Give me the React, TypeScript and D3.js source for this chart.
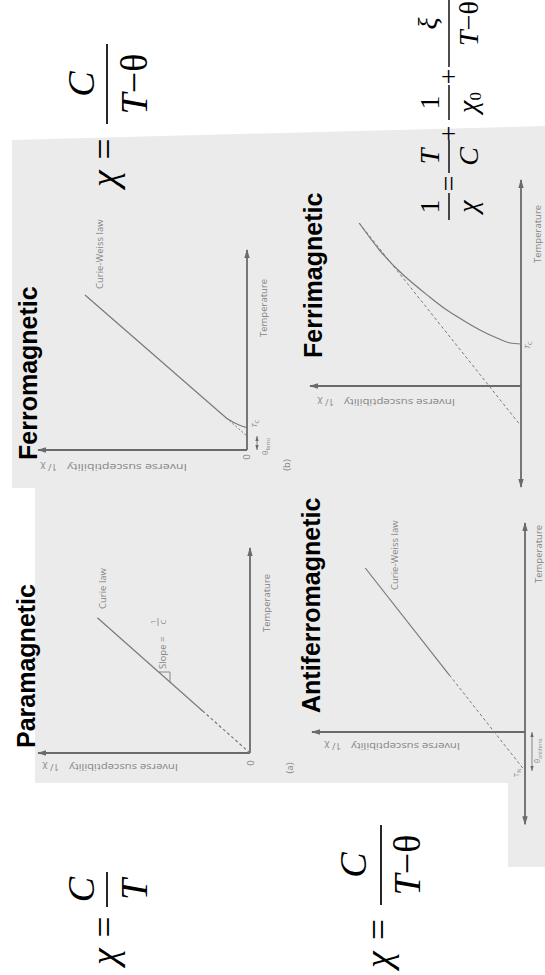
import React from "react";
import * as d3 from "d3";

// ---------- text content ----------
const titles = ["Paramagnetic", "Ferromagnetic", "Antiferromagnetic", "Ferrimagnetic"];
const panelTags = ["(a)", "(b)"];
const axisNames = ["Inverse susceptibility", "1/ \u03c7", "Temperature"];
const lawNames = ["Curie law", "Curie-Weiss law"];
const CHI = "\u03c7";
const THETA = "\u03b8";
const XI = "\u03be";
const MINUS = "\u2212";

// ---------- data (chart units: [temperature, inverse susceptibility]) ----------
const paraCurie: [number, number][] = [[2.0, 2.18], [6.6, 7.2]];
const paraExtrap: [number, number][] = [[0, 0], [2.0, 2.18]];
const ferroCW: [number, number][] = [[7.75, 7.75], [1.6, 0.99]];
const ferroNearTc: [number, number][] = [[1.6, 0.99], [1.35, 0.58], [1.2, 0.26], [1.12, 0]];
const ferroExtrap: [number, number][] = [[1.6, 0.99], [0.7, 0]];
const afCW: [number, number][] = [[8.0, 7.5], [2.78, 3.55]];
const afExtrap: [number, number][] = [[2.78, 3.55], [-1.9, 0]];
const ferriCurve: [number, number][] = [
  [8.15, 7.67], [6.8, 6.71], [4.45, 4.33], [3.8, 3.52], [3.3, 2.76],
  [2.8, 1.95], [2.4, 1.14], [2.15, 0.52], [2.1, 0],
];
const ferriAsym: [number, number][] = [[8.15, 7.67], [-2.0, 0]];
const ferroTheta = 0.7;
const ferroTc = 1.12;
const afTheta = -1.9;
const ferriTc = 2.05;

// ---------- scales (landscape slide coords: U to the right, V downward) ----------
const para = { t: d3.scaleLinear().domain([0, 10]).range([222, 427]), c: d3.scaleLinear().domain([0, 10]).range([250, 38]) };
const ferro = { t: d3.scaleLinear().domain([0, 10]).range([525, 725]), c: d3.scaleLinear().domain([0, 10]).range([247, 38]) };
const af = { t: d3.scaleLinear().domain([0, 10]).range([243, 448]), c: d3.scaleLinear().domain([0, 10]).range([525, 312]) };
const ferri = { t: d3.scaleLinear().domain([0, 10]).range([589, 789]), c: d3.scaleLinear().domain([0, 10]).range([521, 310]) };

type Frame = typeof para;
const mkLine = (f: Frame) => d3.line<[number, number]>().x((d) => f.t(d[0])).y((d) => f.c(d[1]));

const AX = "#6a6a6a";
const LN = "#7a7a7a";
const TX = "#858585";
const SANS = "'Open Sans', 'DejaVu Sans', sans-serif";
const SERIF = "'Liberation Serif', 'Times New Roman', serif";
const BOLD = "'Liberation Sans', Arial, sans-serif";

function Axes({ f, tFrom, tTo, both }: { f: Frame; tFrom: number; tTo: number; both?: boolean }) {
  return (
    <g stroke={AX} strokeWidth={1.8} fill="none">
      <line x1={f.t(tFrom)} y1={f.c(0)} x2={f.t(tTo)} y2={f.c(0)} markerEnd="url(#arr)" markerStart={both ? "url(#arr)" : undefined} />
      <line x1={f.t(0)} y1={f.c(0)} x2={f.t(0)} y2={f.c(10)} markerEnd="url(#arr)" />
    </g>
  );
}

function YLabel({ u, vStart, vEnd }: { u: number; vStart: number; vEnd: number }) {
  return (
    <g fill={TX} fontFamily={SANS} fontSize={9.5}>
      <text transform={`translate(${u},${vStart}) rotate(-90)`} textLength={vStart - vEnd - 24} lengthAdjust="spacingAndGlyphs">
        {axisNames[0]}
      </text>
      <text transform={`translate(${u},${vEnd + 14}) rotate(-90)`}>{axisNames[1]}</text>
    </g>
  );
}

function Frac({ u1, u2, v, num, den, size, numDy, denDy }: any) {
  const mid = (u1 + u2) / 2;
  return (
    <g>
      <line x1={u1} x2={u2} y1={v} y2={v} stroke="#000" strokeWidth={size > 30 ? 1.7 : 1.4} />
      <text x={mid} y={v + numDy} textAnchor="middle" fontSize={size}>{num}</text>
      <text x={mid} y={v + denDy} textAnchor="middle" fontSize={size}>{den}</text>
    </g>
  );
}

const It = ({ c }: { c: string }) => <tspan fontStyle="italic">{c}</tspan>;

export default function App() {
  const lp = mkLine(para), lf = mkLine(ferro), la = mkLine(af), lr = mkLine(ferri);
  const ferriPath = d3.line<[number, number]>().x((d) => ferri.t(d[0])).y((d) => ferri.c(d[1])).curve(d3.curveMonotoneY)(ferriCurve);
  const ferroTcPath = d3.line<[number, number]>().x((d) => ferro.t(d[0])).y((d) => ferro.c(d[1])).curve(d3.curveMonotoneY)(ferroNearTc);

  return (
    <svg width={545} height={975} style={{ position: "absolute", left: 0, top: 0 }} xmlns="http://www.w3.org/2000/svg">
      <defs>
        <marker id="arr" viewBox="0 0 10 6" refX={9} refY={3} markerWidth={9} markerHeight={6} markerUnits="userSpaceOnUse" orient="auto-start-reverse">
          <path d="M0,0 L10,3 L0,6 z" fill={AX} />
        </marker>
        <marker id="sarr" viewBox="0 0 6 4" refX={6} refY={2} markerWidth={5} markerHeight={4} markerUnits="userSpaceOnUse" orient="auto-start-reverse">
          <path d="M0,0 L6,2 L0,4 z" fill={AX} />
        </marker>
      </defs>
      <rect width={545} height={975} fill="#fff" />
      <g transform="translate(0,975) rotate(-90)">
        {/* scanned panel */}
        <polygon points="835,12 849,545 108,545 108,508 192,508 192,35 487,35 487,12" fill="#ebebeb" />

        {/* titles */}
        <g fontFamily={BOLD} fontWeight="bold" fontSize={25} fill="#000">
          <text x={227} y={35}>{titles[0]}</text>
          <text x={515} y={37}>{titles[1]}</text>
          <text x={262} y={320}>{titles[2]}</text>
          <text x={617} y={322}>{titles[3]}</text>
        </g>

        {/* Paramagnetic */}
        <Axes f={para} tFrom={0} tTo={10} />
        <path d={lp(paraCurie)!} stroke={LN} strokeWidth={1.2} fill="none" />
        <path d={lp(paraExtrap)!} stroke={LN} strokeWidth={1.2} fill="none" strokeDasharray="3,2.5" />
        <path d="M293,170 H303 V159" stroke={LN} strokeWidth={0.9} fill="none" />
        <g fill={TX} fontFamily={SANS} fontSize={9.5}>
          <text x={366} y={106}>{lawNames[0]}</text>
          <text x={306} y={166}>Slope =</text>
          <text x={353} y={156} textAnchor="middle" fontSize={8}>1</text>
          <line x1={349} x2={357} y1={158} y2={158} stroke={TX} strokeWidth={0.8} />
          <text x={353} y={166} textAnchor="middle" fontSize={8}>C</text>
          <text x={343} y={270}>{axisNames[2]}</text>
          <text x={212} y={254} textAnchor="middle">0</text>
          <text x={207} y={293} textAnchor="middle">{panelTags[0]}</text>
        </g>
        <YLabel u={211} vStart={178} vEnd={45} />

        {/* Ferromagnetic */}
        <Axes f={ferro} tFrom={0} tTo={10} />
        <path d={lf(ferroCW)!} stroke={LN} strokeWidth={1.2} fill="none" />
        <path d={ferroTcPath!} stroke={LN} strokeWidth={1.2} fill="none" />
        <path d={lf(ferroExtrap)!} stroke={LN} strokeWidth={1} fill="none" strokeDasharray="2,2" />
        <line x1={ferro.t(0)} x2={ferro.t(ferroTheta)} y1={257} y2={257} stroke={AX} strokeWidth={0.8} markerStart="url(#sarr)" markerEnd="url(#sarr)" />
        <g fill={TX} fontFamily={SANS} fontSize={9.5}>
          <text x={686} y={103}>{lawNames[1]}</text>
          <text x={638} y={267}>{axisNames[2]}</text>
          <text x={518} y={250} textAnchor="middle">0</text>
          <text x={510} y={290} textAnchor="middle">{panelTags[1]}</text>
          <text x={ferro.t(ferroTc)} y={257} fontSize={8} fontStyle="italic">T<tspan fontSize={6} dy={2} fontStyle="normal">C</tspan></text>
          <text x={520} y={268} fontSize={7.5}>{THETA}<tspan fontSize={5.5} dy={2}>ferro</tspan></text>
        </g>
        <YLabel u={511} vStart={187} vEnd={43} />

        {/* Antiferromagnetic */}
        <Axes f={af} tFrom={-4.5} tTo={10.2} both />
        <path d={la(afCW)!} stroke={LN} strokeWidth={1.2} fill="none" />
        <path d={la(afExtrap)!} stroke={LN} strokeWidth={1} fill="none" strokeDasharray="3,2.5" />
        <line x1={af.t(afTheta)} x2={af.t(0)} y1={532} y2={532} stroke={AX} strokeWidth={0.8} markerStart="url(#sarr)" markerEnd="url(#sarr)" />
        <g fill={TX} fontFamily={SANS} fontSize={9.5}>
          <text x={385} y={398}>{lawNames[1]}</text>
          <text x={392} y={542}>{axisNames[2]}</text>
          <text x={198} y={519} fontSize={7.5}>T<tspan fontSize={5.5} dy={2}>N</tspan></text>
          <text x={212} y={540} fontSize={7}>{THETA}<tspan fontSize={5} dy={1.5}>antiferro</tspan></text>
        </g>
        <YLabel u={232} vStart={460} vEnd={327} />

        {/* Ferrimagnetic */}
        <Axes f={ferri} tFrom={-5.05} tTo={10.3} both />
        <path d={ferriPath!} stroke={LN} strokeWidth={1.2} fill="none" />
        <path d={lr(ferriAsym)!} stroke={LN} strokeWidth={1} fill="none" strokeDasharray="3,2.5" />
        <g fill={TX} fontFamily={SANS} fontSize={9.5}>
          <text x={712} y={541}>{axisNames[2]}</text>
          <text x={ferri.t(ferriTc) - 4} y={530} fontSize={8} fontStyle="italic">T<tspan fontSize={6} dy={2} fontStyle="normal">C</tspan></text>
        </g>
        <YLabel u={576} vStart={455} vEnd={320} />

        {/* formulas */}
        <g fontFamily={SERIF} fill="#000">
          {/* chi = C / T */}
          <text x={10} y={117} fontSize={38} fontStyle="italic">{CHI}</text>
          <text x={48} y={117} fontSize={38} textAnchor="middle">=</text>
          <Frac u1={68} u2={103} v={107} size={38} numDy={-13} denDy={40} num={<It c="C" />} den={<It c="T" />} />

          {/* chi = C / (T - theta) top right */}
          <text x={788} y={117} fontSize={38} fontStyle="italic">{CHI}</text>
          <text x={826} y={117} fontSize={38} textAnchor="middle">=</text>
          <Frac u1={851} u2={931} v={107} size={38} numDy={-13} denDy={40} num={<It c="C" />} den={<><It c="T" />{MINUS + THETA}</>} />

          {/* chi = C / (T - theta) bottom left */}
          <text x={7} y={391} fontSize={38} fontStyle="italic">{CHI}</text>
          <text x={45.5} y={391} fontSize={38} textAnchor="middle">=</text>
          <Frac u1={70} u2={150} v={381} size={38} numDy={-15} denDy={39} num={<It c="C" />} den={<><It c="T" />{MINUS + THETA}</>} />

          {/* 1/chi = T/C + 1/chi0 + xi/(T - theta) */}
          <Frac u1={755} u2={782} v={449} size={28} numDy={-10} denDy={28} num="1" den={<It c={CHI} />} />
          <text x={791.5} y={458} fontSize={28} textAnchor="middle">=</text>
          <Frac u1={802} u2={835} v={449} size={28} numDy={-10} denDy={29} num={<It c="T" />} den={<It c="C" />} />
          <text x={841.5} y={458} fontSize={28} textAnchor="middle">+</text>
          <Frac u1={855} u2={890} v={449} size={28} numDy={-10} denDy={28} num="1" den={<><It c={CHI} /><tspan fontSize={17} dy={4}>0</tspan></>} />
          <text x={898.5} y={458} fontSize={28} textAnchor="middle">+</text>
          <Frac u1={908} u2={995} v={449} size={28} numDy={-12} denDy={29} num={<It c={XI} />} den={<><It c="T" />{MINUS + THETA}</>} />
        </g>
      </g>
    </svg>
  );
}
